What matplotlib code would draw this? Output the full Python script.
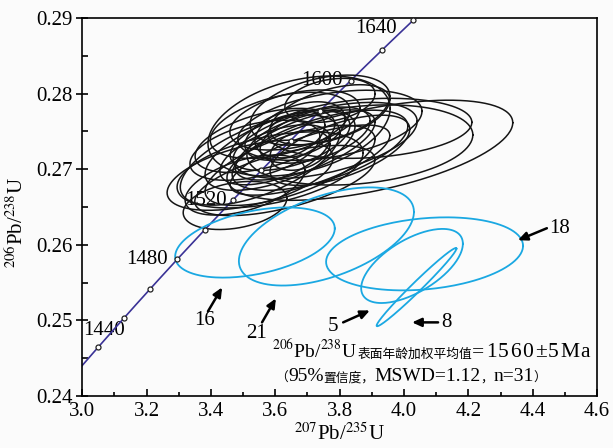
import numpy as np
import matplotlib
matplotlib.use('Agg')
import matplotlib.pyplot as plt
from matplotlib.transforms import IdentityTransform
from matplotlib.ticker import MultipleLocator, FormatStrFormatter

plt.rcParams['font.family'] = ['Liberation Serif', 'Noto Sans CJK SC', 'DejaVu Sans']
plt.rcParams['mathtext.fontset'] = 'stix'

# black analyses: 207Pb/235U, half width, 206Pb/238U, half height, rho
bx = [3.674, 3.894, 3.863, 3.894, 3.770, 3.755, 3.739, 3.739, 3.770, 3.522,
      3.475, 3.553, 3.584, 3.615, 3.646, 3.630, 3.677, 3.599, 3.693, 3.661,
      3.568, 3.708, 3.646, 3.615, 3.724, 3.537, 3.677, 3.801, 3.506, 3.630,
      3.770]
bsx = [0.283, 0.444, 0.351, 0.317, 0.286, 0.286, 0.273, 0.217, 0.186, 0.258,
       0.161, 0.248, 0.289, 0.233, 0.186, 0.124, 0.140, 0.171, 0.217, 0.202,
       0.217, 0.248, 0.264, 0.217, 0.171, 0.202, 0.093, 0.217, 0.186, 0.280,
       0.140]
by = [0.2757, 0.2725, 0.2732, 0.2754, 0.2758, 0.2738, 0.2725, 0.2778, 0.2772, 0.2692,
      0.2652, 0.2712, 0.2699, 0.2725, 0.2738, 0.2745, 0.2752, 0.2719, 0.2732, 0.2765,
      0.2738, 0.2712, 0.2705, 0.2758, 0.2745, 0.2725, 0.2725, 0.2725, 0.2679, 0.2685,
      0.2791]
bsy = [0.00662, 0.00662, 0.00530, 0.00397, 0.00464, 0.00503, 0.00530, 0.00464, 0.00397, 0.00464,
       0.00318, 0.00596, 0.00503, 0.00530, 0.00397, 0.00331, 0.00371, 0.00397, 0.00464, 0.00397,
       0.00424, 0.00464, 0.00530, 0.00437, 0.00371, 0.00397, 0.00265, 0.00464, 0.00397, 0.00464,
       0.00291]
brho = [0.35, 0.55, 0.25, 0.20, 0.40, 0.50, 0.60, 0.40, 0.50, 0.50,
        0.30, 0.60, 0.45, 0.60, 0.50, 0.40, 0.40, 0.55, 0.65, 0.40,
        0.50, 0.70, 0.65, 0.45, 0.50, 0.45, 0.30, 0.60, 0.50, 0.60,
        0.30]

# discordant spots (blue)
spots = ['16', '21', '18', '5', '8']
cx = [3.537, 3.759, 4.064, 4.025, 4.039]
csx = [0.248, 0.272, 0.306, 0.158, 0.124]
cy = [0.2603, 0.2611, 0.2588, 0.2572, 0.2544]
csy = [0.00464, 0.00649, 0.00483, 0.00490, 0.00517]
crho = [0.40, 0.50, 0.22, 0.60, 0.985]

tick_ages = [1420, 1440, 1460, 1480, 1500, 1520, 1540, 1560, 1580, 1600, 1620, 1640]
label_ages = ['1440', '1480', '1520', '1600', '1640']

L238 = 1.55125e-10
L235 = 9.8485e-10

LAT, CJK = 14, 9.2
# (text, size, extra spacing between characters in px)
line1 = [(r'$^{206}$Pb/$^{238}$U ', LAT, 0), ('表面年龄加权平均值', CJK, 0), ('=1560±5Ma', 15.5, 1.5)]
line2 = [('（', CJK, 0), ('95%', LAT, 0), ('置信度，', CJK, 0), ('MSWD=1.12', LAT, 0), ('，', CJK, 0),
         ('n=31', LAT, 0), ('）', CJK, 0)]


def ellipse(x, sx, y, sy, r):
    t = np.linspace(0, 2 * np.pi, 200)
    return x + sx * np.cos(t), y + sy * (r * np.cos(t) + np.sqrt(1 - r * r) * np.sin(t))


def runs(x, y, parts):
    rend = fig.canvas.get_renderer()
    xd, yd = ax.transData.transform((x, y))
    for s, size, track in parts:
        pieces = list(s) if track else [s]
        for p in pieces:
            tx = ax.text(xd, yd, p, fontsize=size, transform=IdentityTransform(),
                         ha='left', va='baseline')
            xd += tx.get_window_extent(rend).width + track


fig = plt.figure(figsize=(6.13, 4.48), dpi=100, facecolor='#fbfbfb')
ax = fig.add_axes([0.134, 0.116, 0.840, 0.844])
ax.set_facecolor('#fbfbfb')

ax.set_xlim(3.0, 4.6)
ax.set_ylim(0.24, 0.29)

# concordia
t = np.linspace(1400, 1660, 300) * 1e6
ax.plot(np.exp(L235 * t) - 1, np.exp(L238 * t) - 1, color='#3a3296', lw=1.2, zorder=2)
ta = np.array(tick_ages) * 1e6
ax.plot(np.exp(L235 * ta) - 1, np.exp(L238 * ta) - 1, 'o', ms=3.6, mfc='white',
        mec='#222222', mew=0.9, zorder=4)

lab_pos = [(3.067, 0.2487), (3.203, 0.2580), (3.385, 0.2659), (3.744, 0.2817), (3.913, 0.2886)]
for s, (px, py) in zip(label_ages, lab_pos):
    ax.text(px, py, s, fontsize=15, ha='center', va='center', zorder=1)

for i in range(len(bx)):
    ex, ey = ellipse(bx[i], bsx[i], by[i], bsy[i], brho[i])
    ax.plot(ex, ey, color='#151515', lw=1.1, zorder=3)

for i in range(len(cx)):
    ex, ey = ellipse(cx[i], csx[i], cy[i], csy[i], crho[i])
    ax.plot(ex, ey, color='#1aa8e2', lw=1.3, zorder=3)

# arrows: head, tail, label position
arrows = {
    '16': ((3.435, 0.25437), (3.391, 0.2512), (3.379, 0.2500)),
    '21': ((3.602, 0.25291), (3.559, 0.24974), (3.543, 0.24828)),
    '5': ((3.894, 0.25132), (3.811, 0.24974), (3.780, 0.24921)),
    '8': ((4.025, 0.24974), (4.106, 0.24974), (4.132, 0.24974)),
    '18': ((4.354, 0.2606), (4.444, 0.26219), (4.484, 0.26219)),
}
for s in spots:
    head, tail, lab = arrows[s]
    ax.annotate('', xy=head, xytext=tail,
                arrowprops=dict(arrowstyle='-|>,head_length=0.55,head_width=0.25',
                                color='black', lw=1.8, shrinkA=0, shrinkB=0))
    ax.text(lab[0], lab[1], s, fontsize=15, ha='center', va='center')

runs(3.59, 0.24510, line1)
runs(3.60, 0.24195, line2)

ax.xaxis.set_major_locator(MultipleLocator(0.2))
ax.xaxis.set_minor_locator(MultipleLocator(0.1))
ax.yaxis.set_major_locator(MultipleLocator(0.01))
ax.yaxis.set_minor_locator(MultipleLocator(0.005))
ax.xaxis.set_major_formatter(FormatStrFormatter('%.1f'))
ax.yaxis.set_major_formatter(FormatStrFormatter('%.2f'))
ax.tick_params(axis='x', which='major', direction='in', length=5, width=1.2, labelsize=15, pad=4)
ax.tick_params(axis='x', which='minor', direction='in', length=3, width=1.2)
ax.tick_params(axis='y', which='major', direction='inout', length=9, width=1.2, labelsize=15, pad=2)
ax.tick_params(axis='y', which='minor', direction='in', length=4, width=1.2)
for sp in ax.spines.values():
    sp.set_linewidth(1.2)

ax.set_xlabel(r'$^{207}$Pb/$^{235}$U', fontsize=15, labelpad=2)
ax.set_ylabel(r'$^{206}$Pb/$^{238}$U', fontsize=15)
ax.yaxis.set_label_coords(-0.105, 0.46)

fig.savefig('out.png', dpi=100, facecolor=fig.get_facecolor())
